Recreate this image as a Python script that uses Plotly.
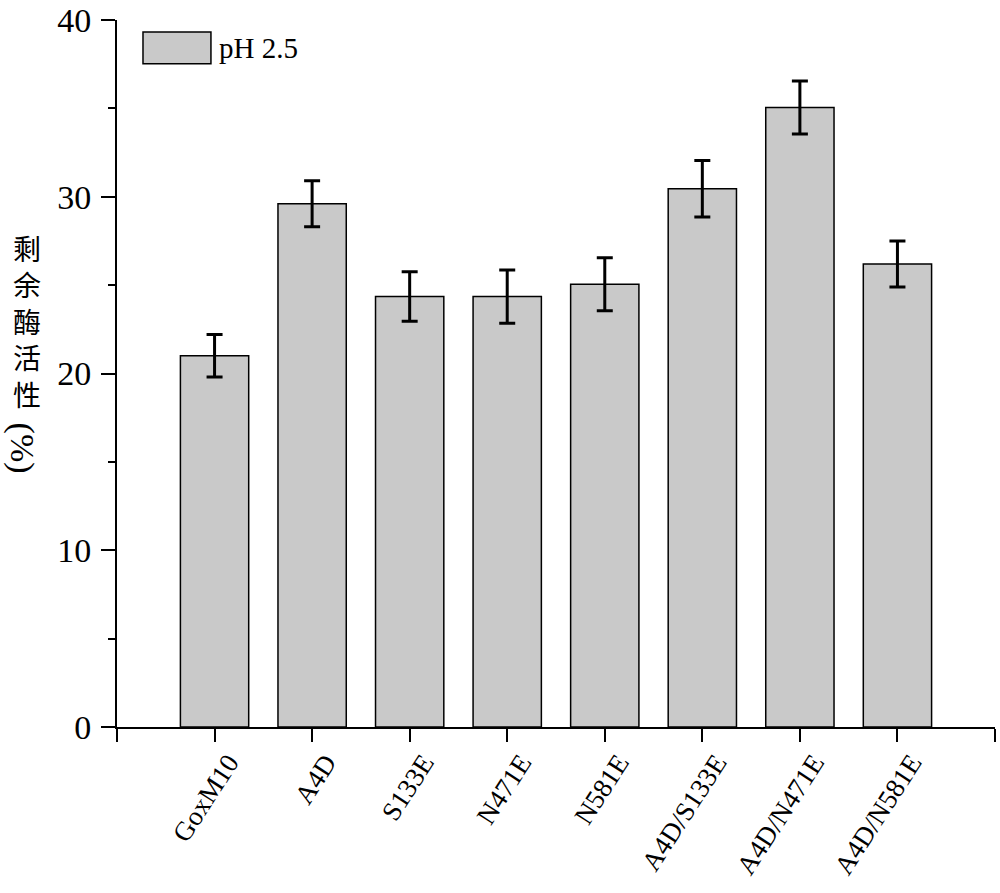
import plotly.graph_objects as go

categories = ["GoxM10", "A4D", "S133E", "N471E", "N581E", "A4D/S133E", "A4D/N471E", "A4D/N581E"]
activity = [21.0, 29.6, 24.35, 24.35, 25.05, 30.45, 35.05, 26.2]
errors = [1.2, 1.3, 1.4, 1.5, 1.5, 1.6, 1.5, 1.3]
series_name = "pH 2.5"
y_ticks = [0, 10, 20, 30, 40]
y_title_chars = ["剩", "余", "酶", "活", "性"]
y_title_unit = "(%)"

xpos = list(range(len(categories)))
serif = "Liberation Serif, Times New Roman, serif"

fig = go.Figure()
fig.add_trace(go.Bar(
    x=xpos, y=activity, name=series_name,
    marker=dict(color="#c9c9c9", line=dict(color="black", width=1.5)),
    error_y=dict(type="data", array=errors, visible=True, color="black", thickness=3, width=8),
    width=0.7, showlegend=False,
))

tickvals = [-1] + xpos + [len(categories)]
ticktext = [""] + categories + [""]

fig.update_layout(
    width=1000, height=893,
    margin=dict(l=117, r=5, t=20, b=166),
    paper_bgcolor="white", plot_bgcolor="white",
    font=dict(family=serif, size=28, color="black"),
    xaxis=dict(
        range=[-1, len(categories)], tickmode="array", tickvals=tickvals, ticktext=ticktext,
        tickangle=-57, ticks="outside", ticklen=13, tickwidth=2, tickcolor="black",
        showline=True, linecolor="black", linewidth=2, showgrid=False, zeroline=False,
        tickfont=dict(family=serif, size=27), ticklabelshift=14, ticklabelstandoff=-6,
        automargin=False,
    ),
    yaxis=dict(
        range=[0, 40], tickmode="array", tickvals=y_ticks,
        ticks="outside", ticklen=14, tickwidth=2, tickcolor="black",
        minor=dict(ticks="outside", ticklen=7, tickwidth=2, tickcolor="black", dtick=5, showgrid=False),
        showline=True, linecolor="black", linewidth=2, showgrid=False, zeroline=False,
        tickfont=dict(family=serif, size=34), ticklabelstandoff=3, automargin=False,
    ),
)

# legend-like key
fig.add_shape(type="rect", xref="paper", yref="paper", x0=0.0296, x1=0.107, y0=0.938, y1=0.983,
              fillcolor="#c9c9c9", line=dict(color="black", width=1.5))
fig.add_annotation(xref="paper", yref="paper", x=0.114, y=0.961, xanchor="left", yanchor="middle",
                   text=series_name, showarrow=False, font=dict(family=serif, size=29))

# vertical y-axis title: upright CJK characters stacked, unit rotated
fig.add_annotation(xref="paper", yref="paper", x=-0.102, y=0.5738, xanchor="center", yanchor="middle",
                   text="<br>".join(y_title_chars), showarrow=False,
                   font=dict(family="Noto Sans CJK SC", size=28, color="black"))
fig.add_annotation(xref="paper", yref="paper", x=-0.108, y=0.395, xanchor="center", yanchor="middle",
                   text=y_title_unit, textangle=90, showarrow=False,
                   font=dict(family=serif, size=34))

fig.write_html("out.html")
